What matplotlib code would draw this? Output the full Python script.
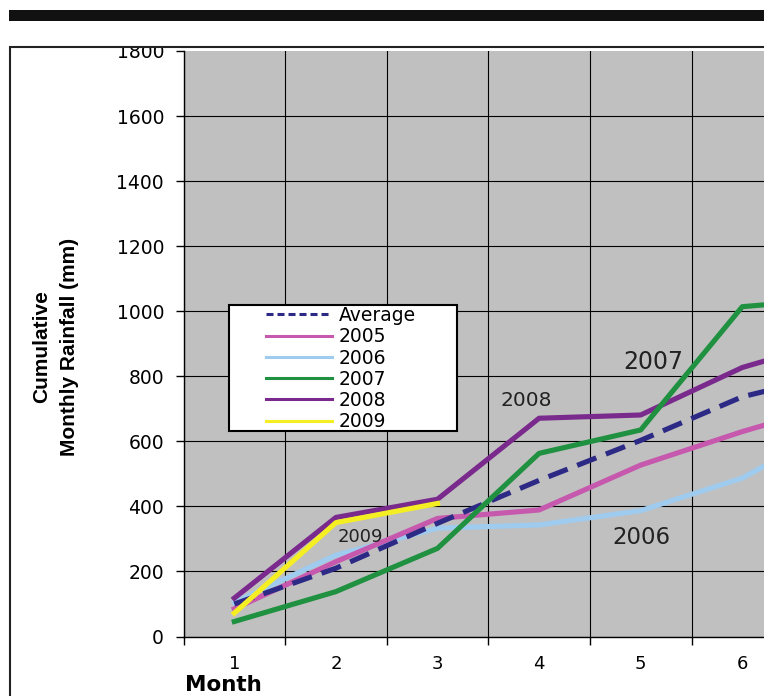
import numpy as np
import matplotlib
matplotlib.use('Agg')
import matplotlib.pyplot as plt
from matplotlib.lines import Line2D
from matplotlib.patches import Rectangle

plt.rcParams['font.family'] = ['DejaVu Sans']

# data (mm, cumulative)
months = [1, 2, 3, 4, 5, 6, 7]
month_labels = ['1', '2', '3', '4', '5', '6', '7']
average = [100, 210, 348, 480, 603, 737, 813]
rain_2005 = [85, 230, 363, 389, 527, 630, 721]
rain_2006 = [105, 250, 333, 343, 387, 487, 659]
rain_2007 = [46, 138, 271, 563, 635, 1014, 1040]
rain_2008 = [118, 366, 422, 671, 681, 827, 918]
months_2009 = [1, 2, 3]
rain_2009 = [72, 350, 409]
y_ticks = [0, 200, 400, 600, 800, 1000, 1200, 1400, 1600, 1800]

# colours
c_avg = '#2d2a86'
c_2005 = '#c658ad'
c_2006 = '#9fcbef'
c_2007 = '#1f9140'
c_2008 = '#7a2a8c'
c_2009 = '#f4ee22'

W, H = 764, 696
fig = plt.figure(figsize=(W / 100, H / 100), dpi=100)
fig.patch.set_facecolor('white')

# plot area in pixel terms
left, bottom, top = 183.5, 636.5, 51
ax = fig.add_axes([left / W, 1 - bottom / H, (W - left) / W, (bottom - top) / H])
ax.set_facecolor('#c0c0c0')

lw = 3.7
ax.plot(months, rain_2006, color=c_2006, lw=lw, zorder=3)
ax.plot(months, rain_2005, color=c_2005, lw=lw, zorder=3)
ax.plot(months, average, color=c_avg, lw=lw, dashes=(4, 2), zorder=4)
ax.plot(months, rain_2008, color=c_2008, lw=lw, zorder=5)
ax.plot(months_2009, rain_2009, color=c_2009, lw=lw, zorder=6)
ax.plot(months, rain_2007, color=c_2007, lw=lw, zorder=7)

# category axis: ticks/grid between months, labels on months
ax.set_xticks(np.arange(0.5, 8, 1))
ax.set_xticks(months, minor=True)
ax.set_xticklabels(month_labels, minor=True)
ax.tick_params(axis='x', which='major', length=6, width=1, direction='out', labelbottom=False)
ax.tick_params(axis='x', which='minor', length=0, pad=13, labelsize=13)
ax.set_yticks(y_ticks)
ax.tick_params(axis='y', length=6, width=1, direction='out', pad=8, labelsize=13.5)

ax.set_xlim(0.5, 0.5 + (W - left) / 101.6)
ax.set_ylim(0, 1800)

ax.grid(True, which='major', color='black', lw=0.8)
ax.set_axisbelow(True)
ax.get_ygridlines()[-1].set_visible(False)

for s in ['top', 'right']:
    ax.spines[s].set_visible(False)
for s in ['left', 'bottom']:
    ax.spines[s].set_color('black')
    ax.spines[s].set_linewidth(1)

# labels in the plot
ax.text(2.237, 306, '2009', fontsize=13, color='#222222', ha='center', va='center', zorder=8)
ax.text(5.003, 303, '2006', fontsize=16.5, color='#222222', ha='center', va='center', zorder=8)
ax.text(3.871, 726, '2008', fontsize=14.5, color='#222222', ha='center', va='center', zorder=8)
ax.text(5.121, 844, '2007', fontsize=17, color='#222222', ha='center', va='center', zorder=8)

# legend box (wider than its entries, like the original)
ax.add_patch(Rectangle((229 / W, 1 - 431 / H), (457 - 229) / W, (431 - 305) / H,
                       transform=fig.transFigure, facecolor='white', edgecolor='black',
                       lw=1.5, zorder=9))
handles = [
    Line2D([], [], color=c_avg, lw=2.2, dashes=(2.3, 1.3)),
    Line2D([], [], color=c_2005, lw=2.2),
    Line2D([], [], color=c_2006, lw=2.2),
    Line2D([], [], color=c_2007, lw=2.2),
    Line2D([], [], color=c_2008, lw=2.2),
    Line2D([], [], color=c_2009, lw=2.2),
]
names = ['Average', '2005', '2006', '2007', '2008', '2009']
leg = ax.legend(handles, names, loc='upper left', bbox_to_anchor=(266 / W, 1 - 306 / H),
                bbox_transform=fig.transFigure, frameon=False, fontsize=13.5,
                borderpad=0, borderaxespad=0, handlelength=3.5, handletextpad=0.4,
                labelspacing=0.12)
leg.set_zorder(10)

# axis titles
fig.text(55.5 / W, 1 - 346.5 / H, 'Cumulative\nMonthly Rainfall (mm)', rotation=90,
         ha='center', va='center', multialignment='center', fontsize=15, fontweight='bold',
         family=['Liberation Sans'], linespacing=1.65)
fig.text(185 / W, 1 - 685 / H, 'Month', ha='left', va='center', fontsize=15.5, fontweight='bold')

# page decoration: black bar on top and the frame round the chart
fig.patches.append(Rectangle((0, 1 - 46.5 / H), 1, 25 / H, transform=fig.transFigure,
                             facecolor='white', edgecolor='none', zorder=20))
fig.patches.append(Rectangle((9 / W, 1 - 21 / H), 1, 11 / H, transform=fig.transFigure,
                             facecolor='#111111', edgecolor='none', zorder=21))
fig.patches.append(Rectangle((9.5 / W, -0.5), 1.2, 0.5 + 1 - 47 / H, transform=fig.transFigure,
                             facecolor='none', edgecolor='#222222', lw=1.5, zorder=21))

fig.savefig('out.png', dpi=100)
